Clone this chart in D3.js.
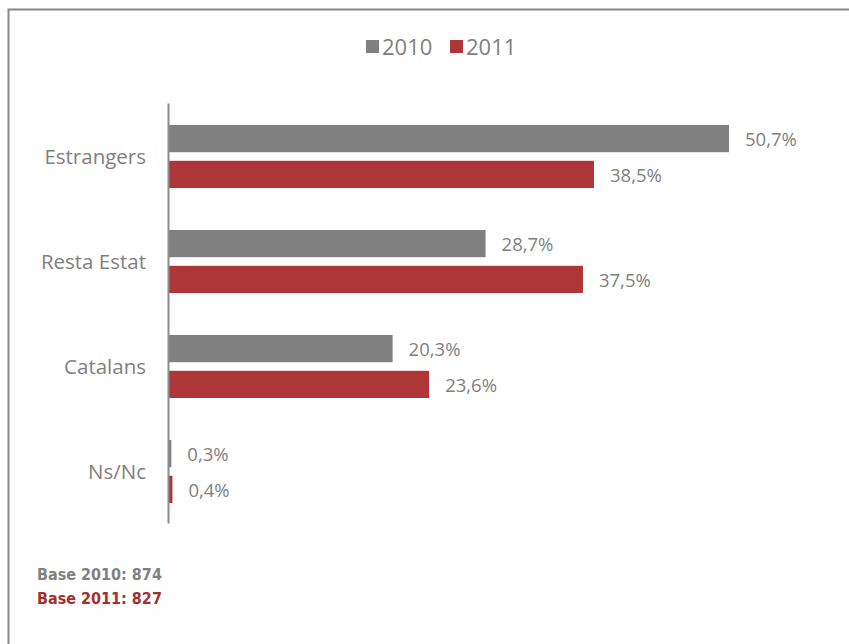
<!DOCTYPE html>
<html>
<head>
<meta charset="utf-8">
<script src="https://d3js.org/d3.v7.min.js"></script>
<style>
  body { margin:0; background:#fff; }
  text { font-family:"Open Sans", sans-serif; }
</style>
</head>
<body>
<svg id="plot"></svg>
<script>
// categories and values
var categories = ["Estrangers", "Resta Estat", "Catalans", "Ns/Nc"];
var years = ["2010", "2011"];
var values2010 = [50.7, 28.7, 20.3, 0.3];
var values2011 = [38.5, 37.5, 23.6, 0.4];
var valueLabels2010 = ["50,7%", "28,7%", "20,3%", "0,3%"];
var valueLabels2011 = ["38,5%", "37,5%", "23,6%", "0,4%"];
var baseNotes = ["Base 2010: 874", "Base 2011: 827"];

var colors = {"2010":"#808080", "2011":"#ae3638"};
var textGray = "#7f7f7f";

var screen = {width:849, height:644};
var margins = {top:103, left:168};

var svg = d3.select("#plot")
    .attr("width", screen.width)
    .attr("height", screen.height);

// frame (top and left edge)
svg.append("path")
    .attr("d", "M8.5,644 L8.5,9.5 L849,9.5")
    .attr("fill", "none")
    .attr("stroke", "#878787")
    .attr("stroke-width", 2);

var xScale = d3.scaleLinear()
    .domain([0, 50.7])
    .range([margins.left, 729]);

var yScale = d3.scaleBand()
    .domain(categories)
    .range([103, 523])
    .paddingInner(0)
    .paddingOuter(0);

var inner = d3.scaleBand()
    .domain(years)
    .range([22, 85])
    .paddingInner(0.24);

var rows = categories.map(function(c, i) {
    return {cat:c, vals:[
        {year:"2010", v:values2010[i], label:valueLabels2010[i]},
        {year:"2011", v:values2011[i], label:valueLabels2011[i]}
    ]};
});

var groups = svg.append("g").selectAll("g")
    .data(rows)
    .enter()
    .append("g")
    .attr("transform", function(d) { return "translate(0," + yScale(d.cat) + ")"; });

groups.selectAll("rect")
    .data(function(d) { return d.vals; })
    .enter()
    .append("rect")
    .attr("x", xScale(0))
    .attr("y", function(d) { return inner(d.year); })
    .attr("width", function(d) { return xScale(d.v) - xScale(0); })
    .attr("height", inner.bandwidth())
    .attr("fill", function(d) { return colors[d.year]; });

groups.selectAll("text.val")
    .data(function(d) { return d.vals; })
    .enter()
    .append("text")
    .classed("val", true)
    .attr("x", function(d) { return xScale(d.v) + 16; })
    .attr("y", function(d) { return inner(d.year) + inner.bandwidth() / 2 + 1; })
    .attr("dy", "0.35em")
    .attr("font-size", 18.5)
    .attr("fill", textGray)
    .text(function(d) { return d.label; });

// category axis
var yAxis = d3.axisLeft(yScale).tickSize(0).tickPadding(22);
var ax = svg.append("g")
    .attr("transform", "translate(" + margins.left + ",0)")
    .call(yAxis);
ax.select(".domain").attr("stroke", "#8c8c8c").attr("stroke-width", 2);
ax.selectAll("text")
    .attr("font-size", 20.5)
    .attr("font-family", "'Open Sans', sans-serif")
    .attr("fill", textGray)
    .attr("dy", "0.42em");

// legend
var legend = svg.append("g");
var legendX = [366, 450];
years.forEach(function(y, i) {
    legend.append("rect")
        .attr("x", legendX[i])
        .attr("y", 40)
        .attr("width", 13)
        .attr("height", 13)
        .attr("fill", colors[y]);
    legend.append("text")
        .attr("x", legendX[i] + 16)
        .attr("y", 55)
        .attr("font-size", 22)
        .attr("fill", textGray)
        .text(y);
});

// base notes
svg.selectAll("text.base")
    .data(baseNotes)
    .enter()
    .append("text")
    .classed("base", true)
    .attr("x", 37)
    .attr("y", function(d, i) { return 580 + i * 24; })
    .attr("font-size", 16)
    .attr("font-weight", "bold")
    .style("font-family", "'DejaVu Sans Condensed', 'DejaVu Sans', sans-serif")
    .attr("fill", function(d, i) { return i === 0 ? "#808080" : "#a3302f"; })
    .text(function(d) { return d; });
</script>
</body>
</html>
